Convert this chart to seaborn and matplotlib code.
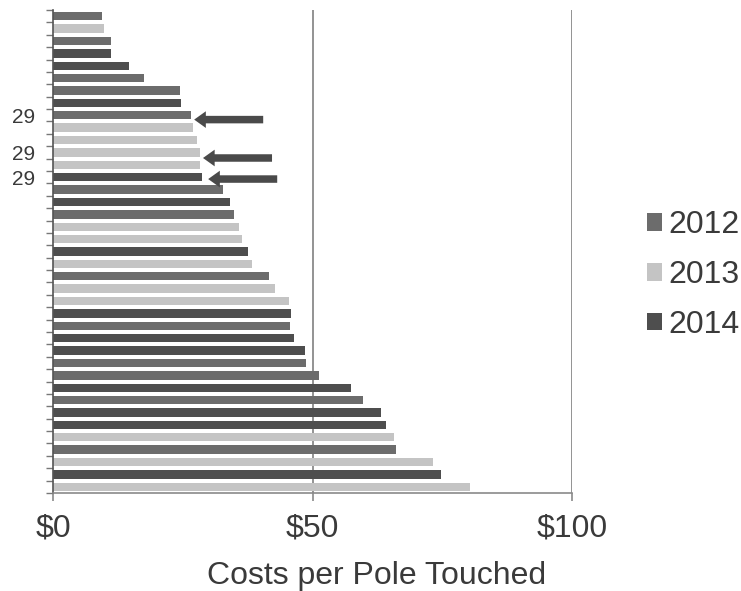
import matplotlib
matplotlib.use("Agg")
import matplotlib.pyplot as plt
import seaborn as sns
import pandas as pd
from matplotlib.ticker import FixedLocator

# Cost per pole touched, one bar per utility-year, sorted low to high
costs = [9.4, 9.8, 11.1, 11.1, 14.6, 17.5, 24.5, 24.7, 26.6, 27.0,
         27.8, 28.3, 28.3, 28.7, 32.8, 34.1, 34.9, 35.8, 36.4, 37.6,
         38.4, 41.6, 42.8, 45.5, 45.9, 45.7, 46.4, 48.6, 48.7, 51.3,
         57.4, 59.8, 63.2, 64.2, 65.7, 66.1, 73.3, 74.7, 80.4]
years = ["2012", "2013", "2012", "2014", "2014", "2012", "2012", "2014", "2012", "2013",
         "2013", "2013", "2013", "2014", "2012", "2014", "2012", "2013", "2013", "2014",
         "2013", "2012", "2013", "2013", "2014", "2012", "2014", "2014", "2012", "2012",
         "2014", "2012", "2014", "2014", "2013", "2012", "2013", "2014", "2013"]
bar_labels = ["", "", "", "", "", "", "", "", "29", "",
              "", "29", "", "29", "", "", "", "", "", "",
              "", "", "", "", "", "", "", "", "", "",
              "", "", "", "", "", "", "", "", ""]
year_order = ["2012", "2013", "2014"]
palette = {"2012": "#6c6c6c", "2013": "#c4c4c4", "2014": "#4e4e4e"}
x_ticks = [0, 50, 100]
x_ticklabels = ["$0", "$50", "$100"]

df = pd.DataFrame({"row": list(range(len(costs))), "cost": costs, "year": years})

sns.set_theme(style="white")
plt.rcParams["font.family"] = ["Liberation Sans", "DejaVu Sans"]

fig = plt.figure(figsize=(7.41, 5.91), dpi=100)
ax = fig.add_axes([53 / 741, 1 - 493 / 591, (572 - 53) / 741, (493 - 10) / 591])

sns.barplot(data=df, x="cost", y="row", hue="year", hue_order=year_order,
            order=list(range(len(costs))), palette=palette, orient="h",
            dodge=False, width=0.68, saturation=1, linewidth=0, ax=ax)

ax.set_xlim(0, 100)
ax.set_ylim(len(costs) - 0.5, -0.5)

# vertical gridlines at $50 and $100
for xv in x_ticks[1:]:
    ax.axvline(xv, color="#8a8a8a", lw=1.3, zorder=0)

for s in ["top", "right"]:
    ax.spines[s].set_visible(False)
ax.spines["left"].set_color("#555555")
ax.spines["left"].set_linewidth(1.2)
ax.spines["bottom"].set_color("#8a8a8a")
ax.spines["bottom"].set_linewidth(1.2)

ax.set_xticks(x_ticks)
ax.set_xticklabels(x_ticklabels, fontsize=23, color="#3a3a3a")
ax.tick_params(axis="x", bottom=True, length=6, width=1.2, color="#8a8a8a", pad=9)

# category labels at bar centres, tick marks at category boundaries
ax.set_yticks(list(range(len(costs))))
ax.set_yticklabels(bar_labels, fontsize=15, color="#3a3a3a")
ax.tick_params(axis="y", which="major", left=True, length=0, pad=13)
ax.yaxis.set_minor_locator(FixedLocator([i - 0.5 for i in range(len(costs) + 1)]))
ax.tick_params(axis="y", which="minor", left=True, length=5, width=1, color="#777777")
ax.set_ylabel("")

ax.set_xlabel("Costs per Pole Touched", fontsize=23, color="#3a3a3a")
ax.xaxis.set_label_coords((377 - 53) / (572 - 53), -0.14)

# arrows pointing at the highlighted bars
arrow_offsets = {8: (0.6, 0.35), 11: (0.6, 0.45), 13: (1.2, 0.15)}
for idx, (gap, dy) in arrow_offsets.items():
    tip = costs[idx] + gap
    ax.annotate("", xy=(tip, idx + dy), xytext=(tip + 13.3, idx + dy),
                arrowprops=dict(arrowstyle="simple,head_length=0.7,head_width=1.0,tail_width=0.45",
                                color="#4a4a4a", lw=0, shrinkA=0, shrinkB=0))

handles, labels = ax.get_legend_handles_labels()
ax.legend(handles, labels, loc="center left", bbox_to_anchor=(647 / 741, 1 - 275 / 591),
          bbox_transform=fig.transFigure, frameon=False, fontsize=23,
          handlelength=0.48, handleheight=0.48, handletextpad=0.2,
          labelspacing=0.62, borderpad=0, borderaxespad=0, labelcolor="#3a3a3a")

fig.savefig("out.png", dpi=100)
